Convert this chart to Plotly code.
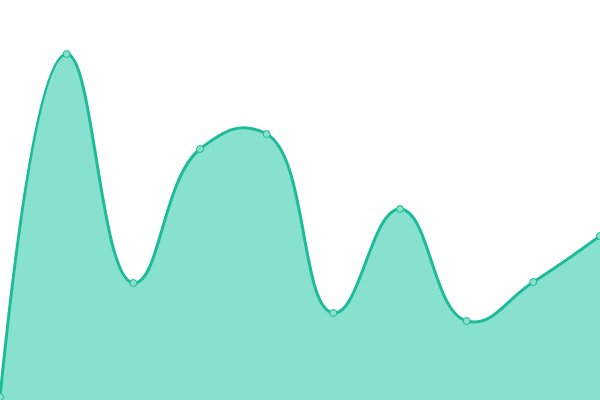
import plotly.graph_objects as go

categories = list(range(10))
values = [3, 346, 117, 251, 266, 87, 191, 79, 118, 164]

fig = go.Figure()
fig.add_trace(go.Scatter(
    x=categories, y=values,
    mode="lines+markers",
    line=dict(shape="spline", smoothing=1.3, color="#1dbb98", width=3),
    marker=dict(size=7, color="#8ae0cd", line=dict(color="#1dbb98", width=1)),
    fill="tozeroy", fillcolor="#88e0ce",
    hoverinfo="skip",
))
fig.update_layout(
    width=600, height=400,
    margin=dict(l=0, r=0, t=0, b=0),
    paper_bgcolor="white", plot_bgcolor="white",
    showlegend=False,
    xaxis=dict(visible=False, range=[0, 9]),
    yaxis=dict(visible=False, range=[0, 400]),
)
fig.write_html("out.html", config={"displayModeBar": False},
               post_script="document.body.style.margin='0';document.body.style.overflow='hidden';")
